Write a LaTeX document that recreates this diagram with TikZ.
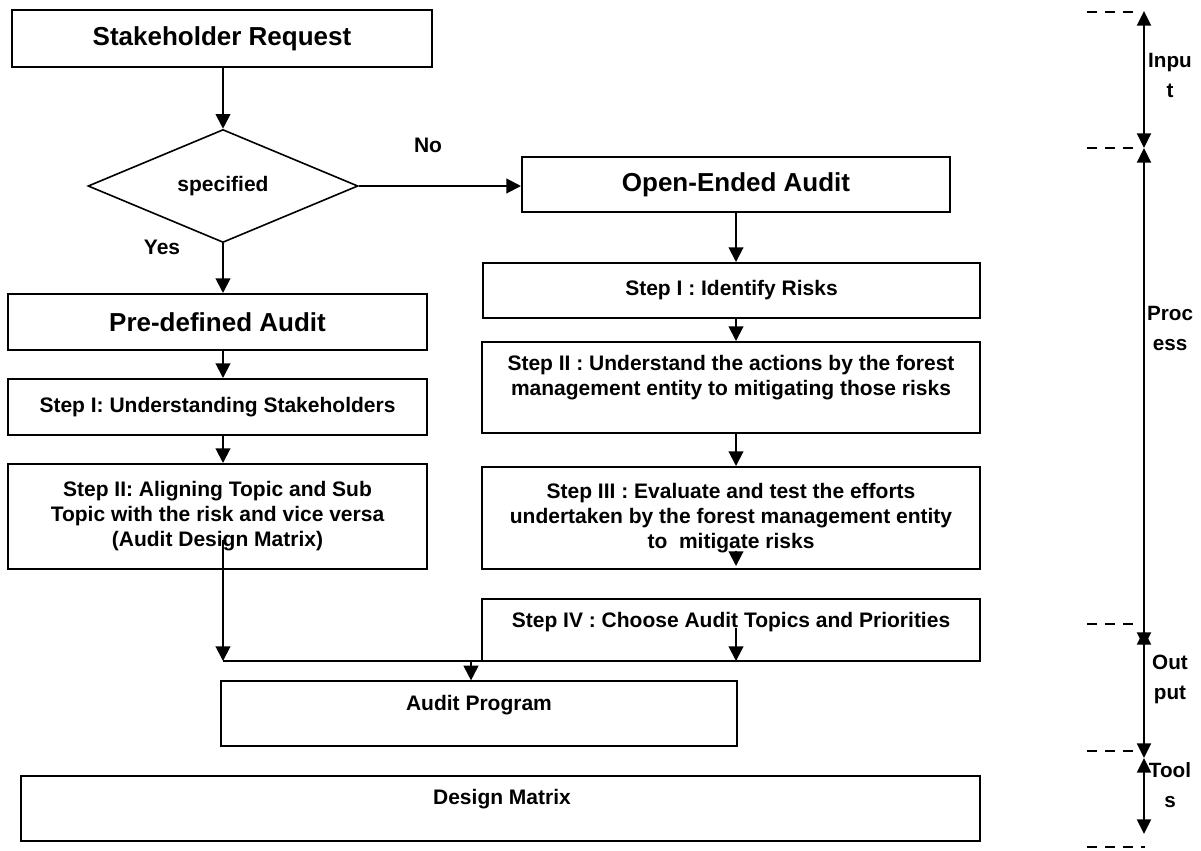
\documentclass[tikz,border=0pt]{standalone}
\usepackage{fontspec}
\setmainfont{Liberation Sans}
\usetikzlibrary{arrows.meta, shapes.geometric}

\begin{document}
\begin{tikzpicture}[x=0.75pt, y=-0.75pt,
  box/.style={rectangle, draw, line width=1.5pt, align=center,
              font=\fontsize{15.75}{18.75}\selectfont\bfseries},
  bigbox/.style={box, font=\fontsize{19.5}{22}\selectfont\bfseries},
  thinbox/.style={box, line width=0.9pt},
  decision/.style={diamond, draw, line width=1.2pt, aspect=2.39, inner sep=1pt,
                   font=\fontsize{15.75}{18.75}\selectfont\bfseries},
  txt/.style={align=center, font=\fontsize{15.75}{18.75}\selectfont\bfseries},
  sidelbl/.style={align=center, font=\fontsize{15.5}{22.5}\selectfont\bfseries},
  arr/.style={-{Triangle[length=11pt, width=11pt]}, line width=1.5pt},
  sidearr/.style={{Triangle[length=11pt, width=10.5pt]}-{Triangle[length=11pt, width=10.5pt]},
                  line width=1.5pt},
  guide/.style={dash pattern=on 7.5pt off 6pt, line width=1.1pt},
]
\useasboundingbox (0,0) rectangle (1201,850);

% left column
\node[bigbox, minimum width=315pt, minimum height=42.75pt] (req) at (222,38.5) {Stakeholder Request};
\node[decision, minimum width=202.5pt, minimum height=84.75pt] (dec) at (223,186) {specified};
\node[bigbox, minimum width=314.25pt, minimum height=42pt] (pre) at (217.5,322) {Pre-defined Audit};
\node[box, minimum width=314.25pt, minimum height=42pt] (s1l) at (217.5,407) {Step I: Understanding Stakeholders};
\node[box, minimum width=314.25pt, minimum height=78.75pt] (s2l) at (217.5,516.5)
  {Step II: Aligning Topic and Sub\\Topic with the risk and vice versa\\(Audit Design Matrix)};

% right column
\node[bigbox, minimum width=321pt, minimum height=41.25pt] (open) at (736,184.5) {Open-Ended Audit};
\node[box, minimum width=372.75pt, minimum height=41.25pt] (s1r) at (731.5,290.5) {Step I : Identify Risks};
\node[box, minimum width=373.5pt, minimum height=68.25pt] (s2r) at (731,387.5) {};
\node[txt] (s2rt) at (731,377.5)
  {Step II : Understand the actions by the forest\\management entity to mitigating those risks};
\node[box, minimum width=373.5pt, minimum height=76.5pt] (s3r) at (731,518)
  {Step III : Evaluate and test the efforts\\undertaken by the forest management entity\\to\ \ mitigate risks};
\node[box, minimum width=373.5pt, minimum height=46.5pt] (s4r) at (731,630) {};
\node[txt] (s4rt) at (731,622) {Step IV : Choose Audit Topics and Priorities};

% bottom
\node[thinbox, minimum width=387pt, minimum height=48.75pt] (prog) at (479,713.5) {};
\node[txt] (progt) at (479,705) {Audit Program};
\node[thinbox, minimum width=719.25pt, minimum height=48.75pt] (dm) at (500.5,808.5) {};
\node[txt] (dmt) at (502,799) {Design Matrix};

\node[txt] (yes) at (162,247) {Yes};
\node[txt] (no) at (428,145) {No};

\coordinate (lc) at (223,0);
\coordinate (rc) at (736,0);
\coordinate (s2lout) at (223,540);
\coordinate (jl) at (223,661);
\coordinate (jr) at (736,661);
\coordinate (jm) at (471,661);
\coordinate (s3in) at (736,551);
\coordinate (s3out) at (736,566);
\coordinate (s4in) at (736,628);

\draw[arr] (req.south -| dec.north) -- (dec.north);
\draw[arr] (dec.south) -- (dec.south |- pre.north);
\draw[arr] (dec.east) -- (dec.east -| open.west);
\draw[arr] (pre.south -| lc) -- (s1l.north -| lc);
\draw[arr] (s1l.south -| lc) -- (s2l.north -| lc);
\draw[arr] (s2lout) -- (jl);
\draw[arr] (open.south -| rc) -- (s1r.north -| rc);
\draw[arr] (s1r.south -| rc) -- (s2r.north -| rc);
\draw[arr] (s2r.south -| rc) -- (s3r.north -| rc);
\draw[arr] (s3in) -- (s3out);
\draw[arr] (s4in) -- (jr);
\draw[line width=2pt] (jl) -- (jr);
\draw[arr] (jm) -- (prog.north -| jm);

% phases on the right
\foreach \y in {12,148,624,751}
  \draw[guide] (1087,\y) -- (1135,\y);
\draw[guide] (1087,847) -- (1145,847);

\coordinate (in1) at (1144,11);
\coordinate (in2) at (1144,148);
\coordinate (pr2) at (1144,647);
\coordinate (ou1) at (1144,630);
\coordinate (ou2) at (1144,758);
\coordinate (to2) at (1144,834);
\draw[sidearr] (in1) -- (in2);
\draw[sidearr] (in2) -- (pr2);
\draw[sidearr] (ou1) -- (ou2);
\draw[sidearr] (ou2) -- (to2);

\node[sidelbl] (inlbl) at (1170,75) {Inpu\\t};
\node[sidelbl] (prlbl) at (1170,328) {Proc\\ess};
\node[sidelbl] (oulbl) at (1170,679) {Out\\put};
\node[sidelbl] (tolbl) at (1170,785) {Tool\\s};
\end{tikzpicture}
\end{document}
